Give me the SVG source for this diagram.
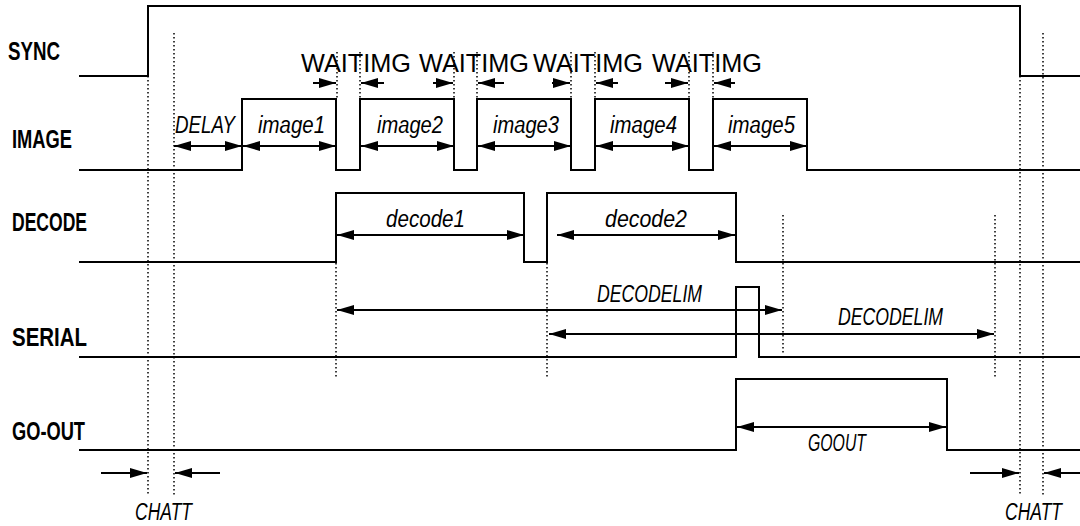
<svg xmlns="http://www.w3.org/2000/svg" width="1080" height="526" viewBox="0 0 1080 526">
<style>
.sig{fill:none;stroke:#000;stroke-width:2}
.dot{fill:none;stroke:#000;stroke-width:1.5;stroke-dasharray:1.5 2.5}
.arr{fill:none;stroke:#000;stroke-width:2}
.lbl{font-family:"Liberation Sans",Arial,sans-serif;font-weight:bold;font-size:25px;fill:#000}
.it{font-family:"Liberation Sans",Arial,sans-serif;font-style:italic;font-size:23px;fill:#000}
.wt{font-family:"Liberation Sans",Arial,sans-serif;font-size:26px;fill:#000}
</style>
<defs>
<marker id="ah" markerUnits="userSpaceOnUse" markerWidth="17" markerHeight="10" refX="17" refY="5" orient="auto-start-reverse" viewBox="0 0 17 10">
<path d="M0,0 L17,5 L0,10 z" fill="#000"/>
</marker>
</defs>
<rect width="1080" height="526" fill="#fff"/>
<g id="labels">
<text class="lbl" x="8" y="60" textLength="52" lengthAdjust="spacingAndGlyphs">SYNC</text>
<text class="lbl" x="12" y="148" textLength="60" lengthAdjust="spacingAndGlyphs">IMAGE</text>
<text class="lbl" x="12" y="231" textLength="75" lengthAdjust="spacingAndGlyphs">DECODE</text>
<text class="lbl" x="12" y="346" textLength="75" lengthAdjust="spacingAndGlyphs">SERIAL</text>
<text class="lbl" x="12" y="440" textLength="73" lengthAdjust="spacingAndGlyphs">GO-OUT</text>
</g>
<g id="signals">
<path id="sync" class="sig" d="M79,76 H148 V6 H1020 V76 H1080"/>
<path id="image" class="sig" d="M79,170 H242 V99 H336 V170 H360 V99 H454 V170 H477 V99 H571 V170 H595 V99 H689 V170 H713 V99 H807 V170 H1080"/>
<path id="decode" class="sig" d="M79,262 H336 V193 H524 V262 H547 V193 H736 V262 H1080"/>
<path id="serial" class="sig" d="M79,357 H736 V287 H759 V357 H1080"/>
<path id="goout" class="sig" d="M79,450 H736 V379 H947 V450 H1080"/>
</g>
<g id="guides">
<line class="dot" x1="148" y1="76" x2="148" y2="495"/>
<line class="dot" x1="174" y1="33" x2="174" y2="495"/>
<line class="dot" x1="1020" y1="76" x2="1020" y2="495"/>
<line class="dot" x1="1043" y1="33" x2="1043" y2="495"/>
<line class="dot" x1="337" y1="52" x2="337" y2="99"/>
<line class="dot" x1="360" y1="52" x2="360" y2="99"/>
<line class="dot" x1="454" y1="52" x2="454" y2="99"/>
<line class="dot" x1="477" y1="52" x2="477" y2="99"/>
<line class="dot" x1="571" y1="52" x2="571" y2="99"/>
<line class="dot" x1="595" y1="52" x2="595" y2="99"/>
<line class="dot" x1="689" y1="52" x2="689" y2="99"/>
<line class="dot" x1="713" y1="52" x2="713" y2="99"/>
<line class="dot" x1="336" y1="263" x2="336" y2="378"/>
<line class="dot" x1="547" y1="263" x2="547" y2="378"/>
<line class="dot" x1="783" y1="215" x2="783" y2="355"/>
<line class="dot" x1="995" y1="215" x2="995" y2="378"/>
</g>
<g id="connectors">
<line class="arr" x1="174" y1="146" x2="242" y2="146" marker-start="url(#ah)" marker-end="url(#ah)"/>
<line class="arr" x1="243" y1="146" x2="336" y2="146" marker-start="url(#ah)" marker-end="url(#ah)"/>
<line class="arr" x1="361" y1="146" x2="454" y2="146" marker-start="url(#ah)" marker-end="url(#ah)"/>
<line class="arr" x1="478" y1="146" x2="571" y2="146" marker-start="url(#ah)" marker-end="url(#ah)"/>
<line class="arr" x1="596" y1="146" x2="689" y2="146" marker-start="url(#ah)" marker-end="url(#ah)"/>
<line class="arr" x1="714" y1="146" x2="807" y2="146" marker-start="url(#ah)" marker-end="url(#ah)"/>
<line class="arr" x1="313" y1="83" x2="336" y2="83" marker-end="url(#ah)"/>
<line class="arr" x1="384" y1="83" x2="361" y2="83" marker-end="url(#ah)"/>
<line class="arr" x1="433" y1="83" x2="453" y2="83" marker-end="url(#ah)"/>
<line class="arr" x1="504" y1="83" x2="478" y2="83" marker-end="url(#ah)"/>
<line class="arr" x1="552" y1="83" x2="570" y2="83" marker-end="url(#ah)"/>
<line class="arr" x1="618" y1="83" x2="596" y2="83" marker-end="url(#ah)"/>
<line class="arr" x1="665" y1="83" x2="688" y2="83" marker-end="url(#ah)"/>
<line class="arr" x1="735" y1="83" x2="714" y2="83" marker-end="url(#ah)"/>
<line class="arr" x1="337" y1="235" x2="524" y2="235" marker-start="url(#ah)" marker-end="url(#ah)"/>
<line class="arr" x1="557" y1="235" x2="735" y2="235" marker-start="url(#ah)" marker-end="url(#ah)"/>
<line class="arr" x1="337" y1="310" x2="782" y2="310" marker-start="url(#ah)" marker-end="url(#ah)"/>
<line class="arr" x1="549" y1="334" x2="994" y2="334" marker-start="url(#ah)" marker-end="url(#ah)"/>
<line class="arr" x1="737" y1="427" x2="946" y2="427" marker-start="url(#ah)" marker-end="url(#ah)"/>
<line class="arr" x1="101" y1="473" x2="147" y2="473" marker-end="url(#ah)"/>
<line class="arr" x1="220" y1="473" x2="175" y2="473" marker-end="url(#ah)"/>
<line class="arr" x1="970" y1="473" x2="1019" y2="473" marker-end="url(#ah)"/>
<line class="arr" x1="1080" y1="473" x2="1044" y2="473" marker-end="url(#ah)"/>
</g>
<g id="waitimg">
<text class="wt" x="301" y="72" textLength="110" lengthAdjust="spacingAndGlyphs">WAITIMG</text>
<text class="wt" x="419" y="72" textLength="110" lengthAdjust="spacingAndGlyphs">WAITIMG</text>
<text class="wt" x="533" y="72" textLength="110" lengthAdjust="spacingAndGlyphs">WAITIMG</text>
<text class="wt" x="652" y="72" textLength="110" lengthAdjust="spacingAndGlyphs">WAITIMG</text>
</g>
<g id="timing-labels">
<text class="it" x="175" y="133" textLength="60" lengthAdjust="spacingAndGlyphs">DELAY</text>
<text class="it" x="258" y="133" textLength="67" lengthAdjust="spacingAndGlyphs">image1</text>
<text class="it" x="377" y="133" textLength="66" lengthAdjust="spacingAndGlyphs">image2</text>
<text class="it" x="493" y="133" textLength="66" lengthAdjust="spacingAndGlyphs">image3</text>
<text class="it" x="610" y="133" textLength="67" lengthAdjust="spacingAndGlyphs">image4</text>
<text class="it" x="728" y="133" textLength="67" lengthAdjust="spacingAndGlyphs">image5</text>
<text class="it" x="386" y="227" textLength="79" lengthAdjust="spacingAndGlyphs">decode1</text>
<text class="it" x="605" y="227" textLength="82" lengthAdjust="spacingAndGlyphs">decode2</text>
<text class="it" x="597" y="302" textLength="105" lengthAdjust="spacingAndGlyphs">DECODELIM</text>
<text class="it" x="838" y="325" textLength="105" lengthAdjust="spacingAndGlyphs">DECODELIM</text>
<text class="it" x="808" y="451" textLength="58" lengthAdjust="spacingAndGlyphs">GOOUT</text>
<text class="it" x="135" y="520" textLength="57" lengthAdjust="spacingAndGlyphs">CHATT</text>
<text class="it" x="1005" y="520" textLength="57" lengthAdjust="spacingAndGlyphs">CHATT</text>
</g>
</svg>
